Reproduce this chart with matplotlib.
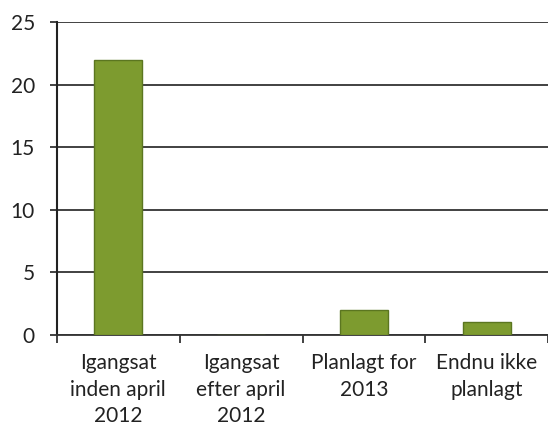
import matplotlib
matplotlib.use("Agg")
import matplotlib.pyplot as plt
import numpy as np

categories = ["Igangsat\ninden april\n2012", "Igangsat\nefter april\n2012", "Planlagt for\n2013", "Endnu ikke\nplanlagt"]
values = [22, 0, 2, 1]
yticks = [0, 5, 10, 15, 20, 25]

plt.rcParams['font.family'] = ['Lato', 'DejaVu Sans']

fig = plt.figure(figsize=(5.48, 4.30), dpi=100)
ax = fig.add_axes([57/548, 1-335/430, 1-57/548, (335-22)/430])

x = np.arange(len(categories))
ax.bar(x, values, width=0.39, color="#7d9b2f", edgecolor="#5b7620", linewidth=1.0, zorder=3)

ax.set_xlim(-0.5, len(categories) - 0.5)
ax.set_ylim(0, 25)
ax.set_yticks(yticks)
ax.set_yticklabels([str(v) for v in yticks], fontsize=15, color="#222222")
ax.yaxis.grid(True, color="#333333", linewidth=1.3, zorder=0)
ax.tick_params(axis='y', length=5, width=1.3, color="#333333", pad=11)

ax.set_xticks(x)
ax.set_xticklabels(categories, fontsize=15, color="#222222", linespacing=1.42)
ax.set_xticks(np.arange(len(categories)+1) - 0.5, minor=True)
ax.tick_params(axis='x', which='major', length=0, pad=13)
ax.tick_params(axis='x', which='minor', length=6, width=1.3, color="#333333", direction='out')

for s in ['top', 'right']:
    ax.spines[s].set_visible(False)
ax.spines['left'].set_color("#222222")
ax.spines['left'].set_linewidth(1.5)
ax.spines['bottom'].set_color("#333333")
ax.spines['bottom'].set_linewidth(1.3)
ax.set_axisbelow(True)

fig.savefig("out.png", dpi=100)
